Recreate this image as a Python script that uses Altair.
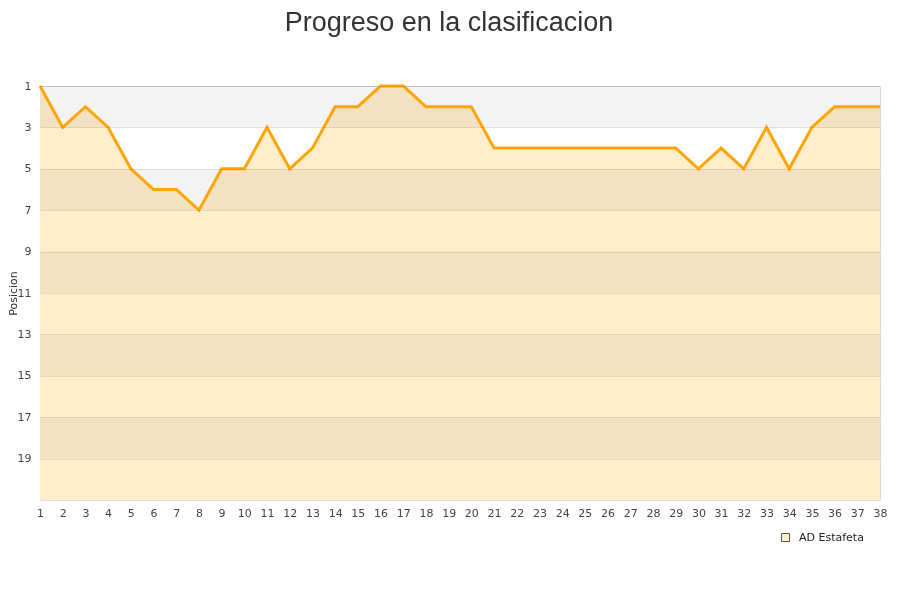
import altair as alt
import pandas as pd

rounds = [1, 2, 3, 4, 5, 6, 7, 8, 9, 10, 11, 12, 13, 14, 15, 16, 17, 18, 19,
          20, 21, 22, 23, 24, 25, 26, 27, 28, 29, 30, 31, 32, 33, 34, 35, 36, 37, 38]
positions = [1, 3, 2, 3, 5, 6, 6, 7, 5, 5,
             3, 5, 4, 2, 2, 1, 1, 2, 2, 2,
             4, 4, 4, 4, 4, 4, 4, 4, 4, 5,
             4, 5, 3, 5, 3, 2, 2, 2]
team = "AD Estafeta"
y_ticks = [1, 3, 5, 7, 9, 11, 13, 15, 17, 19]
band_start = [1, 5, 9, 13, 17]
band_end = [3, 7, 11, 15, 19]
y_bottom = 21

df = pd.DataFrame({"Jornada": rounds, "Posicion": positions, "Equipo": [team] * len(rounds)})
bands = pd.DataFrame({"y1": band_start, "y2": band_end})

xscale = alt.Scale(domain=[1, 38], nice=False, zero=False)
yscale = alt.Scale(domain=[1, y_bottom], reverse=True, nice=False, zero=False)

x_axis = alt.Axis(values=rounds, title=None, grid=False, ticks=False, domain=False,
                  labelPadding=7, format="d", labelFlush=False, labelFont="DejaVu Sans",
                  labelFontSize=11, labelColor="#444", labelOverlap=False)
y_axis = alt.Axis(values=y_ticks, title="Posicion", grid=True, gridColor="#000",
                  gridOpacity=0.09, ticks=False, domain=False, labelPadding=9,
                  format="d", labelFont="DejaVu Sans", labelFontSize=11, labelColor="#444",
                  titleFont="DejaVu Sans", titleFontSize=11, titleFontWeight="normal",
                  titleColor="#333", titleX=-26.5, titleY=207, titleAngle=270,
                  titleAlign="center", titleBaseline="middle", zindex=1)

area = alt.Chart(df).mark_area(opacity=1).encode(
    x=alt.X("Jornada:Q", scale=xscale, axis=x_axis),
    y=alt.Y("Posicion:Q", scale=yscale, axis=y_axis),
    y2=alt.datum(y_bottom),
    color=alt.Color("Equipo:N", scale=alt.Scale(range=["#FFEDCC"]),
                    legend=alt.Legend(orient="none", legendX=740, legendY=446, title=None,
                                      symbolType="square", symbolSize=64,
                                      symbolStrokeColor="#555", symbolStrokeWidth=1,
                                      labelOffset=8,
                                      labelFont="DejaVu Sans", labelFontSize=11,
                                      labelColor="#222")),
)

band_layer = alt.Chart(bands).mark_rect(color="#f3f3f3", blend="multiply").encode(
    y=alt.Y("y1:Q", scale=yscale, axis=y_axis),
    y2="y2:Q",
)

line = alt.Chart(df).mark_line(color="#FFA500", strokeWidth=3).encode(
    x=alt.X("Jornada:Q", scale=xscale, axis=x_axis),
    y=alt.Y("Posicion:Q", scale=yscale, axis=y_axis),
)

chart = alt.layer(area, band_layer, line).properties(
    width=840,
    height=414,
    title=alt.TitleParams("Progreso en la clasificacion", fontSize=27, font="Liberation Sans",
                          color="#333", fontWeight="normal", anchor="middle", offset=43, dx=-11),
    autosize=alt.AutoSizeParams(type="none"),
    padding={"left": 32, "top": 78, "right": 12, "bottom": 84},
).configure_view(stroke="#ccc", strokeWidth=1).configure_axisX(labelOverlap=False).configure(background="white")

chart.save("out.html", embed_options={"renderer": "svg", "actions": False})
